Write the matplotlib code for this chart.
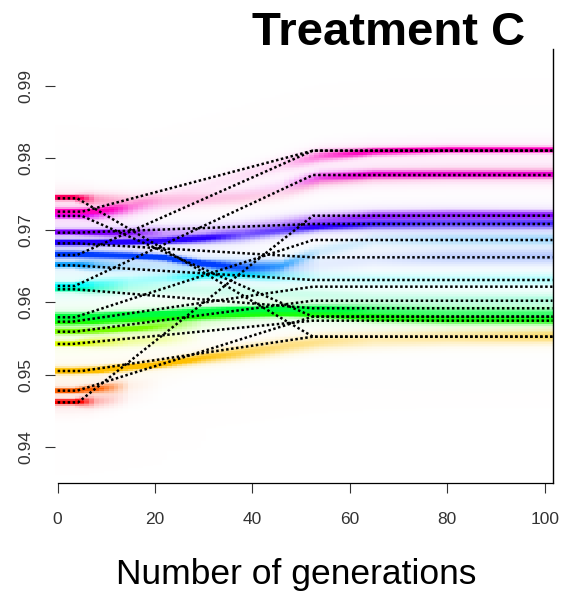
import numpy as np
import matplotlib
matplotlib.use('Agg')
import matplotlib.pyplot as plt
from matplotlib.colors import hsv_to_rgb

plt.rcParams['font.family'] = ['Liberation Sans', 'DejaVu Sans']

# starting values of the 16 lineages (ascending), coloured with rainbow(16)
start_vals = [0.94615, 0.94777, 0.95050, 0.95424, 0.95594, 0.95733, 0.95794, 0.96182,
              0.96228, 0.96514, 0.96657, 0.96819, 0.96967, 0.97198, 0.97258, 0.97443]

# dotted lines: value at generation ~52 and kept to the end
end_vals = [0.97202, 0.95803, 0.95525, 0.95747, 0.96024, 0.96218, 0.96865, 0.95919,
            0.97766, 0.96311, 0.98104, 0.96625, 0.97087, 0.95803, 0.98104, 0.95525]
knee_start = [4.2, 4.0, 5.0, 3.0, 3.5, 3.0, 3.5, 3.5, 3.5, 3.0, 4.0, 4.0, 4.0, 5.0, 5.0, 4.0]
knee_end = 52.4

# coloured bands (simulated lineages), read at a few generations
band_gens = [-0.6, 3, 8, 15, 22, 30, 38, 46, 54, 65, 80, 102]
band_vals = [
    [0.94615, 0.94615, 0.9463, 0.9467, 0.9470, 0.9473, 0.9476, 0.9479, 0.9482, 0.9485, 0.9488, 0.9490],
    [0.94777, 0.94777, 0.9480, 0.9484, 0.9488, 0.9491, 0.9494, 0.9497, 0.9500, 0.9502, 0.9504, 0.9505],
    [0.9505, 0.9505, 0.9506, 0.9510, 0.9515, 0.9523, 0.9530, 0.9538, 0.9545, 0.9548, 0.9551, 0.95525],
    [0.95424, 0.95424, 0.9544, 0.9546, 0.9548, 0.9551, 0.9553, 0.9555, 0.9556, 0.9557, 0.9557, 0.9557],
    [0.95594, 0.95594, 0.9560, 0.9563, 0.9567, 0.9572, 0.9577, 0.9580, 0.9581, 0.9581, 0.9581, 0.9581],
    [0.95733, 0.95733, 0.9574, 0.9576, 0.9578, 0.9581, 0.9583, 0.9585, 0.9583, 0.9579, 0.9576, 0.95750],
    [0.95794, 0.95794, 0.9580, 0.9582, 0.9584, 0.9587, 0.9589, 0.9590, 0.9590, 0.9588, 0.9585, 0.9583],
    [0.96182, 0.96182, 0.9619, 0.9619, 0.9618, 0.9616, 0.9614, 0.9612, 0.9610, 0.9606, 0.9604, 0.9603],
    [0.96228, 0.96228, 0.9625, 0.9629, 0.9633, 0.9637, 0.9638, 0.9636, 0.9633, 0.9631, 0.9631, 0.96311],
    [0.96514, 0.96514, 0.9651, 0.9650, 0.9649, 0.9648, 0.9647, 0.9650, 0.9670, 0.9686, 0.96865, 0.96865],
    [0.96657, 0.96657, 0.9665, 0.9664, 0.9661, 0.9653, 0.9648, 0.9647, 0.9652, 0.9660, 0.9662, 0.9663],
    [0.96819, 0.96819, 0.9682, 0.9683, 0.9685, 0.9688, 0.9693, 0.9700, 0.9705, 0.9708, 0.97087, 0.97087],
    [0.96967, 0.96967, 0.9696, 0.9695, 0.9695, 0.9697, 0.9701, 0.9708, 0.9714, 0.9719, 0.97202, 0.97202],
    [0.97198, 0.97198, 0.9721, 0.9728, 0.9735, 0.9742, 0.9750, 0.9760, 0.9773, 0.97766, 0.97766, 0.97766],
    [0.97258, 0.97258, 0.9726, 0.9731, 0.9745, 0.9760, 0.9775, 0.9790, 0.9802, 0.9808, 0.98104, 0.98104],
    [0.97443, 0.97443, 0.9742, 0.9740, 0.9740, 0.9742, 0.9744, 0.9750, 0.9768, 0.9775, 0.9777, 0.9777],
]
band_alpha = [
    [1, 1, 0.3, 0.05, 0, 0, 0, 0, 0, 0, 0, 0],
    [1, 1, 0.8, 0.12, 0.02, 0, 0, 0, 0, 0, 0, 0],
    [1, 1, 1, 1, 0.95, 0.7, 0.55, 0.45, 0.4, 0.3, 0.35, 0.5],
    [1, 1, 0.6, 0.35, 0.3, 0.05, 0, 0, 0, 0, 0, 0],
    [1, 1, 1, 0.9, 0.6, 0.15, 0.05, 0, 0, 0, 0, 0],
    [1, 1, 1, 1, 1, 1, 1, 1, 1, 0.9, 0.95, 1],
    [1, 1, 1, 1, 1, 1, 1, 1, 0.9, 0.6, 0.55, 0.6],
    [1, 1, 0.5, 0.25, 0.2, 0.2, 0.2, 0.2, 0.2, 0.2, 0.25, 0.3],
    [1, 1, 0.5, 0.3, 0.35, 0.75, 0.8, 0.35, 0.2, 0.25, 0.25, 0.3],
    [1, 1, 0.5, 0.25, 0.2, 0.25, 0.6, 0.6, 0.2, 0.2, 0.3, 0.35],
    [1, 1, 1, 1, 1, 0.95, 0.6, 0.25, 0.12, 0.15, 0.25, 0.3],
    [1, 1, 1, 1, 1, 0.8, 0.5, 0.6, 0.8, 0.7, 0.6, 0.65],
    [1, 1, 0.9, 0.7, 0.35, 0.25, 0.25, 0.3, 0.5, 0.7, 0.7, 0.8],
    [1, 1, 0.6, 0.15, 0.12, 0.12, 0.12, 0.15, 0.55, 0.85, 0.9, 0.95],
    [1, 1, 1, 0.4, 0.12, 0.12, 0.15, 0.2, 0.5, 0.85, 0.95, 1],
    [1, 1, 0.35, 0.2, 0.2, 0.2, 0.2, 0.15, 0.25, 0.3, 0.3, 0.3],
]
band_thick = [1, 1, 1.3, 1, 1.1, 1.4, 1.4, 1, 1, 1, 1.2, 1.2, 1.1, 1, 1.1, 1]

x_lim = (-0.55, 101.6)
y_lim = (0.93497, 0.99513)


def band_image(ncols=102, nrows=260):
    gc = np.linspace(x_lim[0], x_lim[1], ncols + 1)
    gc = (gc[:-1] + gc[1:]) / 2
    vc = np.linspace(y_lim[0], y_lim[1], nrows + 1)
    vc = (vc[:-1] + vc[1:]) / 2
    canvas = np.ones((nrows, ncols, 3))
    n = len(start_vals)
    for i in range(n):
        col = hsv_to_rgb([i / n, 1, 1])
        v = np.interp(gc, band_gens, band_vals[i])
        a = np.interp(gc, band_gens, band_alpha[i])
        d = vc[:, None] - v[None, :]
        sig = 0.00023 * band_thick[i] * (1 + 2.0 * (1 - a))
        core = np.clip(1.6 * a ** 1.5 * np.exp(-0.5 * (d / sig) ** 2), 0, 1)
        halo = 0.07 * np.clip(2 * a, 0, 1) * np.exp(-0.5 * (d / 0.0012) ** 2)
        alpha = 1 - (1 - core) * (1 - halo)
        canvas = canvas * (1 - alpha[..., None]) + col * alpha[..., None]
    return canvas


fig = plt.figure(figsize=(5.7, 5.97), dpi=100)
ax = fig.add_axes([0.0965, 0.19095, 0.8728, 0.7270])

ax.imshow(band_image(), extent=(x_lim[0], x_lim[1], y_lim[0], y_lim[1]),
          origin='lower', aspect='auto', interpolation='nearest')

for s, f, k in zip(start_vals, end_vals, knee_start):
    ax.plot([0, k, knee_end, x_lim[1]], [s, s, f, f], color='black', lw=1.8,
            linestyle=(0, (1, 1.0)), dash_capstyle='butt')

ax.set_xlim(x_lim)
ax.set_ylim(y_lim)
ax.set_xticks([0, 20, 40, 60, 80, 100])
ax.set_yticks([0.94, 0.95, 0.96, 0.97, 0.98, 0.99])
ax.set_yticklabels(['0.94', '0.95', '0.96', '0.97', '0.98', '0.99'], rotation=90, va='center')

ax.spines['left'].set_visible(False)
ax.spines['top'].set_visible(False)
ax.spines['right'].set_linewidth(1.0)
ax.spines['bottom'].set_linewidth(0.9)
ax.spines['bottom'].set_bounds(0, x_lim[1])
ax.tick_params(axis='both', direction='out', length=7.2, width=0.8, color='#333333',
               labelsize=12.5, labelcolor='#333333')
ax.tick_params(axis='x', pad=13.5)
ax.tick_params(axis='y', pad=8.6)

fig.text(0.6825, 0.9246, 'Treatment C', fontsize=34, fontweight='bold',
         ha='center', va='baseline')
fig.text(0.519, 0.0218, 'Number of generations', fontsize=25.5,
         ha='center', va='baseline')

fig.savefig('out.png', dpi=100)
